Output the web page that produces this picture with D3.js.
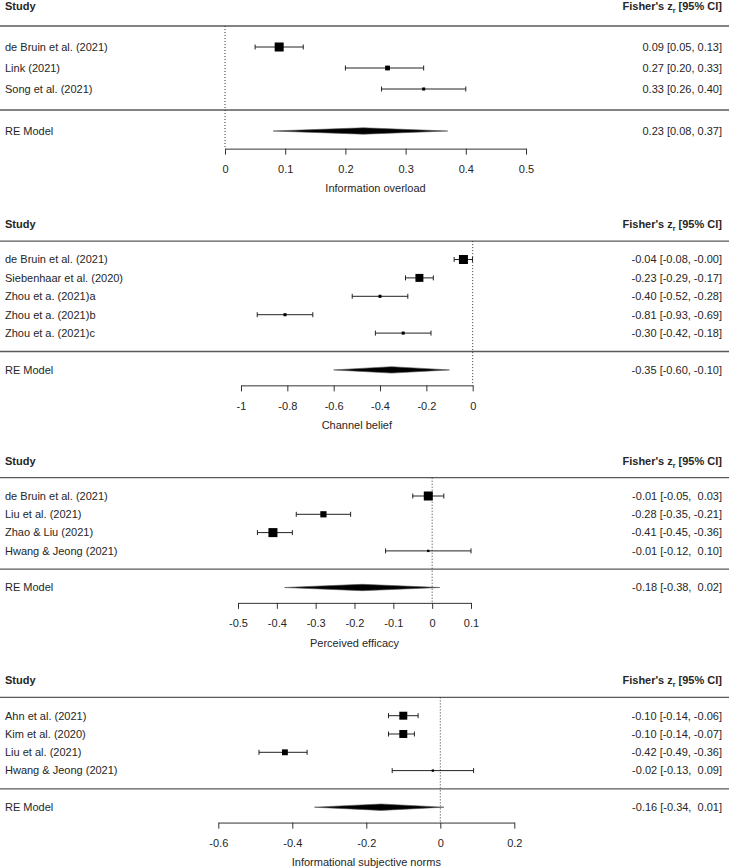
<!DOCTYPE html>
<html><head><meta charset="utf-8">
<script src="https://cdn.jsdelivr.net/npm/d3@7"></script>
<style>
body{margin:0;background:#fff}
svg{display:block}
text{font-family:"Liberation Sans",Arial,sans-serif;fill:#262626}
</style>
</head><body>
<svg id="c" width="729" height="868"></svg>
<script>
// ---------- DATA ----------
// Panel 1: Information overload
const studies1 = ["de Bruin et al. (2021)", "Link (2021)", "Song et al. (2021)"];
const est1 = [0.09, 0.27, 0.33];
const lower1 = [0.05, 0.20, 0.26];
const upper1 = [0.13, 0.33, 0.40];
const weight1 = [100, 40, 15];
const re1 = [0.23, 0.08, 0.37];
const ticks1 = [0, 0.1, 0.2, 0.3, 0.4, 0.5];
const title1 = "Information overload";

// Panel 2: Channel belief
const studies2 = ["de Bruin et al. (2021)", "Siebenhaar et al. (2020)", "Zhou et a. (2021)a", "Zhou et a. (2021)b", "Zhou et a. (2021)c"];
const est2 = [-0.04, -0.23, -0.40, -0.81, -0.30];
const lower2 = [-0.08, -0.29, -0.52, -0.93, -0.42];
const upper2 = [-0.001, -0.17, -0.28, -0.69, -0.18];
const weight2 = [100, 85, 15, 15, 15];
const re2 = [-0.35, -0.60, -0.10];
const ticks2 = [-1, -0.8, -0.6, -0.4, -0.2, 0];
const title2 = "Channel belief";

// Panel 3: Perceived efficacy
const studies3 = ["de Bruin et al. (2021)", "Liu et al. (2021)", "Zhao & Liu (2021)", "Hwang & Jeong (2021)"];
const est3 = [-0.01, -0.28, -0.41, -0.01];
const lower3 = [-0.05, -0.35, -0.45, -0.12];
const upper3 = [0.03, -0.21, -0.36, 0.10];
const weight3 = [100, 60, 100, 5];
const re3 = [-0.18, -0.38, 0.02];
const ticks3 = [-0.5, -0.4, -0.3, -0.2, -0.1, 0, 0.1];
const title3 = "Perceived efficacy";

// Panel 4: Informational subjective norms
const studies4 = ["Ahn et al. (2021)", "Kim et al. (2020)", "Liu et al. (2021)", "Hwang & Jeong (2021)"];
const est4 = [-0.10, -0.10, -0.42, -0.02];
const lower4 = [-0.14, -0.14, -0.49, -0.13];
const upper4 = [-0.06, -0.07, -0.36, 0.09];
const weight4 = [85, 85, 55, 5];
const re4 = [-0.16, -0.34, 0.01];
const ticks4 = [-0.6, -0.4, -0.2, 0, 0.2];
const title4 = "Informational subjective norms";

const headerLeft = "Study";
const reLabel = "RE Model";

// ---------- LAYOUT ----------
const panels = [
  {studies: studies1, est: est1, lo: lower1, hi: upper1, w: weight1, re: re1, ticks: ticks1, title: title1,
   xr: [225, 526], y0: 110, step: 21},
  {studies: studies2, est: est2, lo: lower2, hi: upper2, w: weight2, re: re2, ticks: ticks2, title: title2,
   xr: [241, 472.7], y0: 351.5, step: 18.4},
  {studies: studies3, est: est3, lo: lower3, hi: upper3, w: weight3, re: re3, ticks: ticks3, title: title3,
   xr: [238, 471], y0: 569.2, step: 18.3},
  {studies: studies4, est: est4, lo: lower4, hi: upper4, w: weight4, re: re4, ticks: ticks4, title: title4,
   xr: [218.3, 514.3], y0: 788.9, step: 18.3}
];

const W = 729;
const svg = d3.select("#c");
const sizeScale = d3.scaleLinear().domain([0, 100]).range([2, 9]);

function fmtCol(vals) {
  const s = vals.map(v => v.toFixed(2));
  const L = d3.max(s, t => t.length);
  return s.map(t => t.padStart(L, " "));
}

panels.forEach(p => {
  const k = p.studies.length;
  const x = d3.scaleLinear().domain([p.ticks[0], p.ticks[p.ticks.length - 1]]).range(p.xr);
  const y = d3.scaleLinear().domain([0, 1]).range([p.y0, p.y0 - p.step]);
  const g = svg.append("g");
  const axisY = y(-1.84);

  // text columns
  const eS = fmtCol([...p.est, p.re[0]]);
  const lS = fmtCol([...p.lo, p.re[1]]);
  const uS = fmtCol([...p.hi, p.re[2]]);
  const labels = eS.map((e, i) => `${e} [${lS[i]}, ${uS[i]}]`);

  // header
  g.append("text").attr("x", 5).attr("y", y(k + 2) + 1.5).attr("dy", "0.35em")
    .attr("font-size", 11).attr("font-weight", "bold").text(headerLeft);
  const hr = g.append("text").attr("x", 722).attr("y", y(k + 2) + 1.5).attr("dy", "0.35em")
    .attr("text-anchor", "end").attr("font-size", 11).attr("font-weight", "bold");
  hr.append("tspan").text("Fisher's z");
  hr.append("tspan").attr("font-size", 7).attr("dy", "3").text("r");
  hr.append("tspan").attr("dy", "-3").text(" [95% CI]");

  // rules
  [k + 1, 0].forEach(r => {
    g.append("line").attr("x1", 0).attr("x2", W).attr("y1", y(r)).attr("y2", y(r))
      .attr("stroke", "#5a5a5a").attr("stroke-width", 1.3);
  });

  // reference line at 0
  g.append("line").attr("x1", x(0)).attr("x2", x(0)).attr("y1", y(k + 1)).attr("y2", axisY)
    .attr("stroke", "#333").attr("stroke-width", 1).attr("stroke-dasharray", "1,2");

  // studies
  p.studies.forEach((s, i) => {
    const yy = y(k - i);
    g.append("text").attr("x", 5).attr("y", yy).attr("dy", "0.35em").attr("font-size", 11).text(s);
    g.append("text").attr("x", 722).attr("y", yy).attr("dy", "0.35em").attr("font-size", 11)
      .attr("text-anchor", "end").style("white-space", "pre").text(labels[i]);
    g.append("line").attr("x1", x(p.lo[i])).attr("x2", x(p.hi[i])).attr("y1", yy).attr("y2", yy)
      .attr("stroke", "#222").attr("stroke-width", 1);
    [p.lo[i], p.hi[i]].forEach(v => {
      g.append("line").attr("x1", x(v)).attr("x2", x(v)).attr("y1", yy - 2.5).attr("y2", yy + 2.5)
        .attr("stroke", "#222").attr("stroke-width", 1);
    });
    const sz = sizeScale(p.w[i]);
    g.append("rect").attr("x", x(p.est[i]) - sz / 2).attr("y", yy - sz / 2)
      .attr("width", sz).attr("height", sz).attr("fill", "#000");
  });

  // RE model
  const yr = y(-1);
  g.append("text").attr("x", 5).attr("y", yr).attr("dy", "0.35em").attr("font-size", 11).text(reLabel);
  g.append("text").attr("x", 722).attr("y", yr).attr("dy", "0.35em").attr("font-size", 11)
    .attr("text-anchor", "end").style("white-space", "pre").text(labels[k]);
  const h = 3.2;
  g.append("polygon")
    .attr("points", [[x(p.re[1]), yr], [x(p.re[0]), yr - h], [x(p.re[2]), yr], [x(p.re[0]), yr + h]].map(d => d.join(",")).join(" "))
    .attr("fill", "#000").attr("stroke", "#555").attr("stroke-width", 0.6);

  // axis
  const ax = g.append("g").attr("transform", `translate(0,${axisY})`)
    .call(d3.axisBottom(x).tickValues(p.ticks).tickSize(6).tickSizeOuter(0).tickPadding(10.5)
      .tickFormat(d => String(d)));
  ax.select(".domain").attr("stroke", "#333");
  ax.selectAll(".tick line").attr("stroke", "#333");
  ax.selectAll(".tick text").attr("font-size", 11).attr("font-family", '"Liberation Sans",Arial,sans-serif').attr("fill", "#262626");

  g.append("text").attr("x", (p.xr[0] + p.xr[1]) / 2).attr("y", axisY + 40).attr("dy", "0.35em")
    .attr("text-anchor", "middle").attr("font-size", 11).text(p.title);
});
</script>
</body></html>
